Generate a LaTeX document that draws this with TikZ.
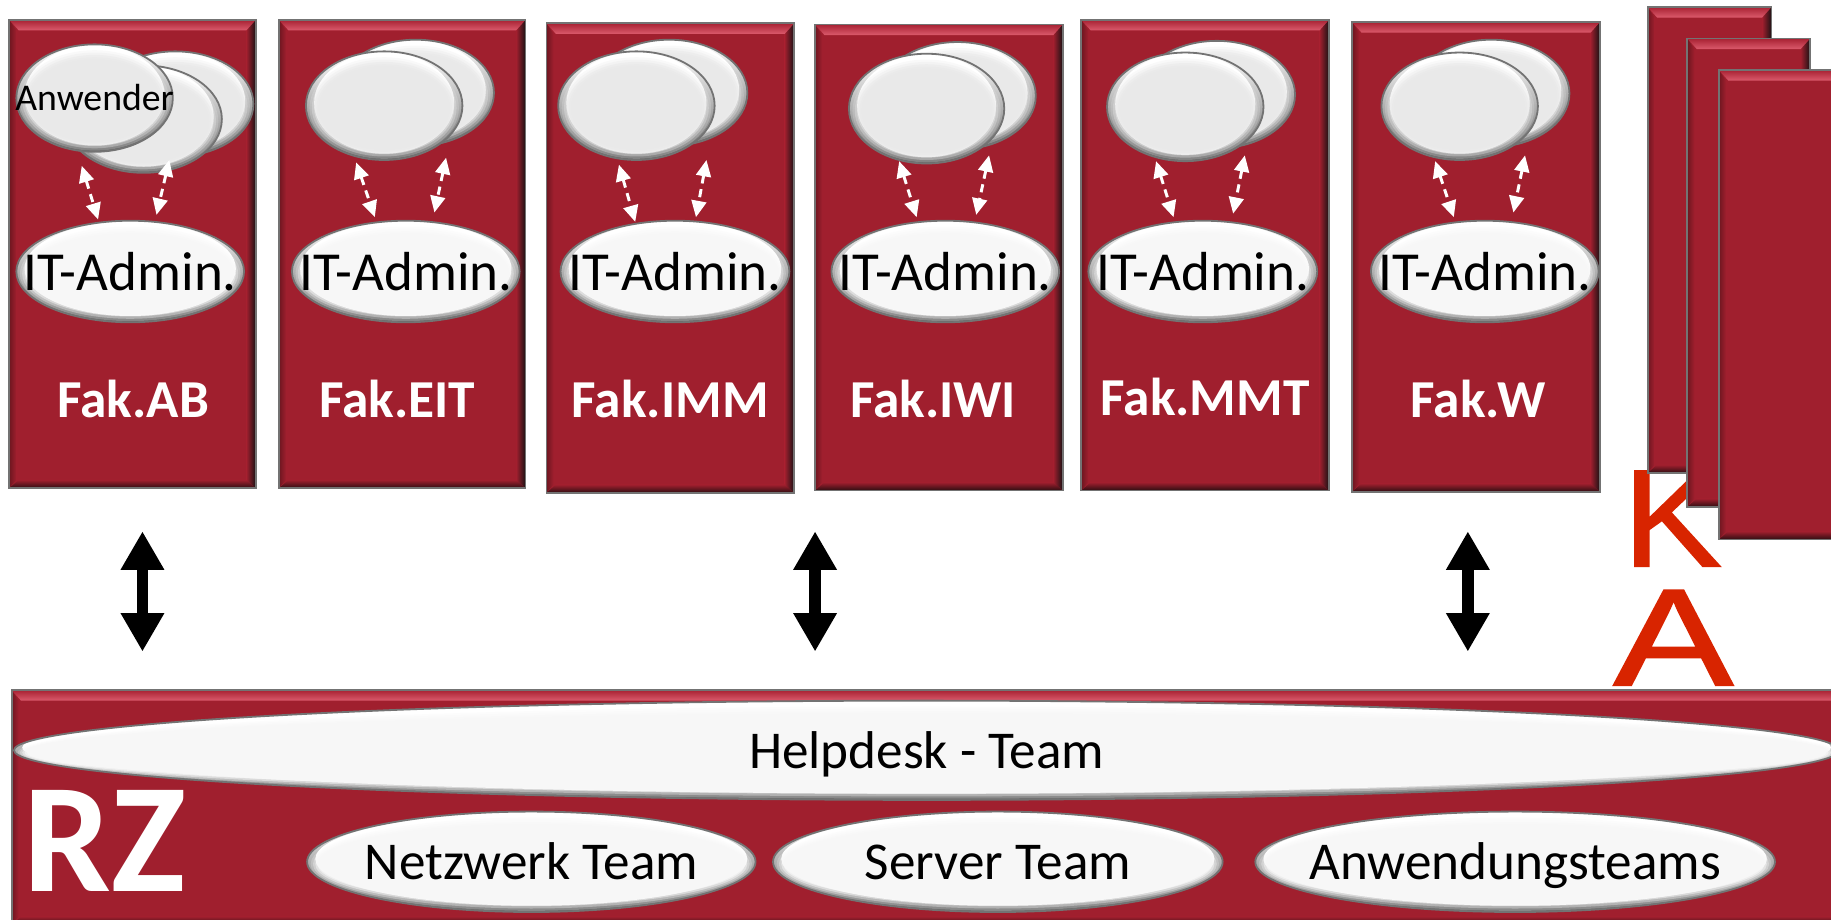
\documentclass[tikz,border=0pt]{standalone}
\usepackage{fontspec}
\setmainfont{Carlito}
\newfontfamily\kafont[FakeBold=1.1]{Liberation Sans}
\usetikzlibrary{arrows.meta,shapes.geometric}
\definecolor{wine}{HTML}{A01F2E}
\definecolor{winelight}{HTML}{DB5A6C}
\definecolor{winetop}{HTML}{A82233}
\definecolor{wineleft}{HTML}{6E1620}
\definecolor{wineright}{HTML}{1A1214}
\definecolor{winebottom}{HTML}{2E0E12}
\definecolor{kared}{HTML}{D82400}
\definecolor{softgrey}{HTML}{E9E9E9}
\definecolor{softwhite}{HTML}{F7F7F7}
\tikzset{
  panelframe/.style={rectangle,draw=black!55,line width=2.3pt,inner sep=0pt},
  glossy/.style={ellipse,draw=black!55,line width=2.2pt,inner sep=0pt},
  thru/.style={line width=3.6pt,white,dash pattern=on 10pt off 7pt,
    {Triangle[length=20pt,width=18pt]}-{Triangle[length=20pt,width=18pt]}},
  bigarrow/.style={line width=14pt,black,
    {Triangle[length=47pt,width=50pt]}-{Triangle[length=47pt,width=50pt]}},
  smalltext/.style={font=\fontsize{46}{46}\selectfont},
  admintext/.style={font=\fontsize{67}{67}\selectfont},
  teamtext/.style={font=\fontsize{64.8}{64.8}\selectfont},
  faktext/.style={font=\fontsize{65}{65}\selectfont\bfseries,white,inner sep=0pt},
  rztext/.style={font=\fontsize{190}{190}\selectfont\bfseries,white,inner sep=0pt},
  katext/.style={font=\fontsize{169}{169}\selectfont\kafont,text=kared,inner sep=0pt,anchor=base},
}
% name, x1, y1, x2, y2
\newcommand\redpanel[5]{%
  \pgfmathsetmacro\pw{#4-#2}\pgfmathsetmacro\ph{#5-#3}%
  \pgfmathsetmacro\pcx{(#2+#4)/2}\pgfmathsetmacro\pcy{(#3+#5)/2}%
  \fill[wine] (#2,#3) rectangle (#4,#5);
  \shade[left color=wineleft,right color=wine] (#2,#3) -- (#2+6,#3+9) -- (#2+6,#5-7) -- (#2,#5) -- cycle;
  \shade[left color=wine,right color=wineright] (#4,#3) -- (#4-8,#3+9) -- (#4-8,#5-7) -- (#4,#5) -- cycle;
  \shade[top color=winetop,bottom color=winelight] (#2,#3) -- (#4,#3) -- (#4-8,#3+9) -- (#2+8,#3+9) -- cycle;
  \shade[top color=wine,bottom color=winebottom] (#2,#5) -- (#4,#5) -- (#4-8,#5-7) -- (#2+8,#5-7) -- cycle;
  \node[panelframe,minimum width=\pw*0.05cm,minimum height=\ph*0.05cm] (#1) at (\pcx,\pcy) {};
}
% name, x1, y1, x2, y2, inner colour, text style, text
\newcommand\glossoval[8]{%
  \pgfmathsetmacro\rx{(#4-#2)/2}\pgfmathsetmacro\ry{(#5-#3)/2}%
  \pgfmathsetmacro\ocx{(#2+#4)/2}\pgfmathsetmacro\ocy{(#3+#5)/2}%
  \node[glossy,#7,minimum width=\rx*0.1cm,minimum height=\ry*0.1cm,
    path picture={
      \shade[top color=white,middle color=black!42,bottom color=black!62]
        (path picture bounding box.south west) rectangle (path picture bounding box.north east);
      \fill[white] ([yshift=.12cm]path picture bounding box.center)
          ellipse [x radius={(\rx-7)*0.05cm}, y radius={(\ry-3)*0.05cm}];
      \foreach \dd/\oo in {3/.25,5/.35,7/.5,9/.7,11/1}{
        \fill[#6,fill opacity=\oo] ([yshift=-.1cm]path picture bounding box.center)
          ellipse [x radius={(\rx-\dd)*0.05cm}, y radius={(\ry-\dd)*0.05cm}];
      }
    }] (#1) at (\ocx,\ocy)
    {\makebox[0pt]{\raisebox{-0.34em}[0pt][0pt]{#8}}};
}
\begin{document}
\begin{tikzpicture}[x=0.05cm,y=-0.05cm]
\path[use as bounding box,clip] (0,0) rectangle (1568,787);
\fill[white] (0,0) rectangle (1568,787);
% KA letters, behind the panels
\node[katext,xscale=1.07] (kaK) at (1432,485) {K};
\node[katext,xscale=1.3] (kaA) at (1433,587) {A};
% stacked panels
\redpanel{stackA}{1411}{6}{1517}{405}
\redpanel{stackB}{1445}{33}{1550}{434}
\redpanel{stackC}{1472}{60}{1585}{462}
% faculties
\redpanel{pAB}{8}{17}{219}{418}
\redpanel{pEIT}{239}{17}{450}{418}
\redpanel{pIMM}{468}{20}{680}{422}
\redpanel{pIWI}{698}{21}{910}{420}
\redpanel{pMMT}{926}{17}{1138}{420}
\redpanel{pW}{1158}{19}{1370}{421}
% user ovals
\glossoval{uABc}{83}{44}{217}{134}{softgrey}{smalltext}{}
\glossoval{uABb}{56}{56}{190}{148}{softgrey}{smalltext}{}
\glossoval{uABa}{14}{38}{148}{130}{softgrey}{smalltext}{Anwender}
\glossoval{uEITb}{289}{34}{423}{125}{softgrey}{smalltext}{}
\glossoval{uEITa}{262}{44}{396}{137}{softgrey}{smalltext}{}
\glossoval{uIMMb}{506}{34}{640}{125}{softgrey}{smalltext}{}
\glossoval{uIMMa}{478}{44}{612}{137}{softgrey}{smalltext}{}
\glossoval{uIWIb}{753}{36}{887}{128}{softgrey}{smalltext}{}
\glossoval{uIWIa}{727}{46}{860}{140}{softgrey}{smalltext}{}
\glossoval{uMMTb}{975}{35}{1109}{127}{softgrey}{smalltext}{}
\glossoval{uMMTa}{948}{45}{1082}{138}{softgrey}{smalltext}{}
\glossoval{uWb}{1210}{34}{1344}{126}{softgrey}{smalltext}{}
\glossoval{uWa}{1183}{45}{1317}{137}{softgrey}{smalltext}{}
% admin ovals
\glossoval{aAB}{14}{189}{209}{276}{softwhite}{admintext}{IT-Admin.}
\glossoval{aEIT}{250}{189}{445}{276}{softwhite}{admintext}{IT-Admin.}
\glossoval{aIMM}{480}{189}{676}{276}{softwhite}{admintext}{IT-Admin.}
\glossoval{aIWI}{712}{189}{907}{276}{softwhite}{admintext}{IT-Admin.}
\glossoval{aMMT}{932}{189}{1128}{276}{softwhite}{admintext}{IT-Admin.}
\glossoval{aW}{1174}{189}{1369}{276}{softwhite}{admintext}{IT-Admin.}
% faculty names
\node[faktext] (fAB) at (114,342) {Fak.AB};
\node[faktext] (fEIT) at (340,342) {Fak.EIT};
\node[faktext] (fIMM) at (574,342) {Fak.IMM};
\node[faktext] (fIWI) at (799,342) {Fak.IWI};
\node[faktext] (fMMT) at (1032,340) {Fak.MMT};
\node[faktext] (fW) at (1266,342) {Fak.W};
% user--admin arrows
\coordinate (a1) at (70,142);   \coordinate (b1) at (84,188);
\coordinate (a2) at (145,137);  \coordinate (b2) at (134,184);
\coordinate (a3) at (305,139);  \coordinate (b3) at (321,186);
\coordinate (a4) at (382,135);  \coordinate (b4) at (372,182);
\coordinate (a5) at (530,141);  \coordinate (b5) at (544,190);
\coordinate (a6) at (605,137);  \coordinate (b6) at (596,186);
\coordinate (a7) at (770,138);  \coordinate (b7) at (785,186);
\coordinate (a8) at (847,133);  \coordinate (b8) at (836,184);
\coordinate (a9) at (990,138);  \coordinate (b9) at (1005,186);
\coordinate (a10) at (1066,133); \coordinate (b10) at (1056,183);
\coordinate (a11) at (1229,138); \coordinate (b11) at (1245,186);
\coordinate (a12) at (1306,133); \coordinate (b12) at (1296,182);
\foreach \i in {1,...,12}{\draw[thru] (a\i) -- (b\i);}
% black arrows
\coordinate (t1) at (122,455); \coordinate (d1) at (122,558);
\coordinate (t2) at (698,455); \coordinate (d2) at (698,558);
\coordinate (t3) at (1257,455); \coordinate (d3) at (1257,558);
\foreach \i in {1,2,3}{\draw[bigarrow] (t\i) -- (d\i);}
% RZ bar
\redpanel{pRZ}{10}{591}{1585}{792}
\glossoval{help}{12}{600}{1575}{685}{softwhite}{teamtext}{Helpdesk - Team}
\node[rztext] (rz) at (90,720) {RZ};
\glossoval{net}{263}{695}{647}{781}{softwhite}{teamtext}{Netzwerk Team}
\glossoval{srv}{662}{695}{1047}{781}{softwhite}{teamtext}{Server Team}
\glossoval{app}{1075}{695}{1520}{781}{softwhite}{teamtext}{Anwendungsteams}
\end{tikzpicture}
\end{document}
